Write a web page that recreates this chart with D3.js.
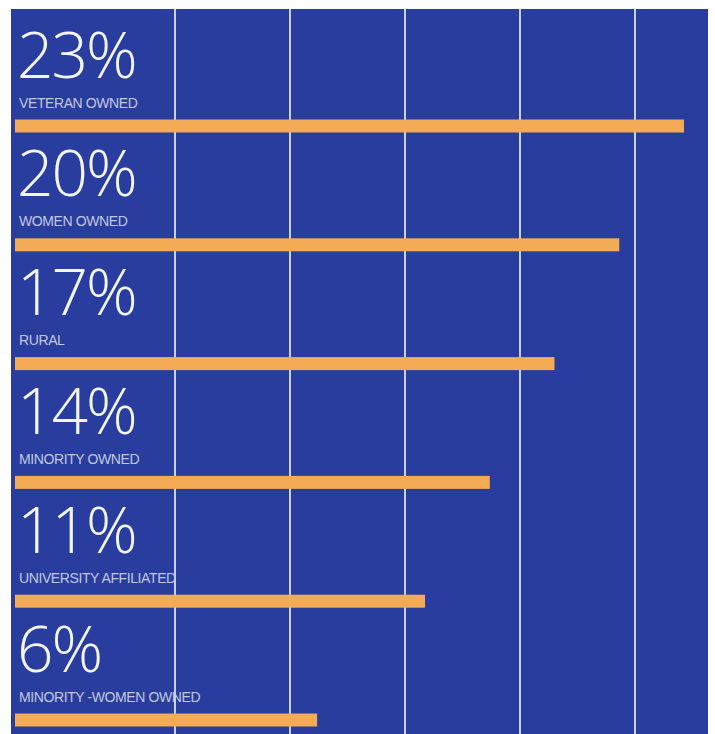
<!DOCTYPE html>
<html>
<head>
<meta charset="utf-8">
<script src="https://cdn.jsdelivr.net/npm/d3@7"></script>
<style>
  body { margin: 0; background: #fff; }
</style>
</head>
<body>
<div id="plot"></div>
<script>
// Chart data
const categories = ["VETERAN OWNED", "WOMEN OWNED", "RURAL", "MINORITY OWNED", "UNIVERSITY AFFILIATED", "MINORITY -WOMEN OWNED"];
const values = [23, 20, 17, 14, 11, 6];
const gridTicks = [1, 2, 3, 4, 5];

function createPlot() {
    d3.select("#plot").html("");

    const width = 715;
    const height = 734;
    const panelLeft = 11;
    const panelTop = 9;
    const panelRight = 708;

    const svg = d3.select("#plot")
        .append("svg")
        .attr("width", width)
        .attr("height", height)
        .attr("viewBox", [0, 0, width, height]);

    // Blue panel
    svg.append("rect")
        .attr("x", panelLeft)
        .attr("y", panelTop)
        .attr("width", panelRight - panelLeft)
        .attr("height", height - panelTop)
        .attr("fill", "#283d9d");

    // Bar scale: the bars in the source don't start from zero, so the domain is offset
    const x = d3.scaleLinear()
        .domain([-8, 23])
        .range([15, 684]);

    // Row positions (bar centres)
    const y = d3.scalePoint()
        .domain(categories)
        .range([126, 720]);

    // Decorative vertical grid
    const gx = d3.scaleLinear()
        .domain([0, 5])
        .range([60, 635]);

    svg.append("g")
        .selectAll("line")
        .data(gridTicks)
        .join("line")
        .attr("x1", d => gx(d))
        .attr("x2", d => gx(d))
        .attr("y1", panelTop)
        .attr("y2", height)
        .attr("stroke", "#c9d0ee")
        .attr("stroke-width", 2);

    const barH = 13;
    const rows = categories.map((c, i) => ({name: c, value: values[i]}));

    // Bars
    svg.append("g")
        .selectAll("rect")
        .data(rows)
        .join("rect")
        .attr("x", x(-8))
        .attr("y", d => y(d.name) - barH / 2)
        .attr("width", d => x(d.value) - x(-8))
        .attr("height", barH)
        .attr("fill", "#f3ac55");

    // Big percentages
    svg.append("g")
        .selectAll("text")
        .data(rows)
        .join("text")
        .attr("x", 17)
        .attr("y", d => y(d.name) - barH / 2 - 42)
        .attr("fill", "#f4f5fb")
        .style("font-family", "'Open Sans', sans-serif")
        .style("font-weight", 300)
        .style("font-size", "64px")
        .style("letter-spacing", "-2px")
        .text(d => d.value + "%");

    // Category labels
    svg.append("g")
        .selectAll("text")
        .data(rows)
        .join("text")
        .attr("x", 19)
        .attr("y", d => y(d.name) - barH / 2 - 12)
        .attr("fill", "#c3c8e0")
        .style("font-family", "'Liberation Sans Narrow', 'Liberation Sans', sans-serif")
        .style("font-size", "14px")
        .style("letter-spacing", "-0.4px")
        .text(d => d.name);
}

createPlot();
</script>
</body>
</html>
